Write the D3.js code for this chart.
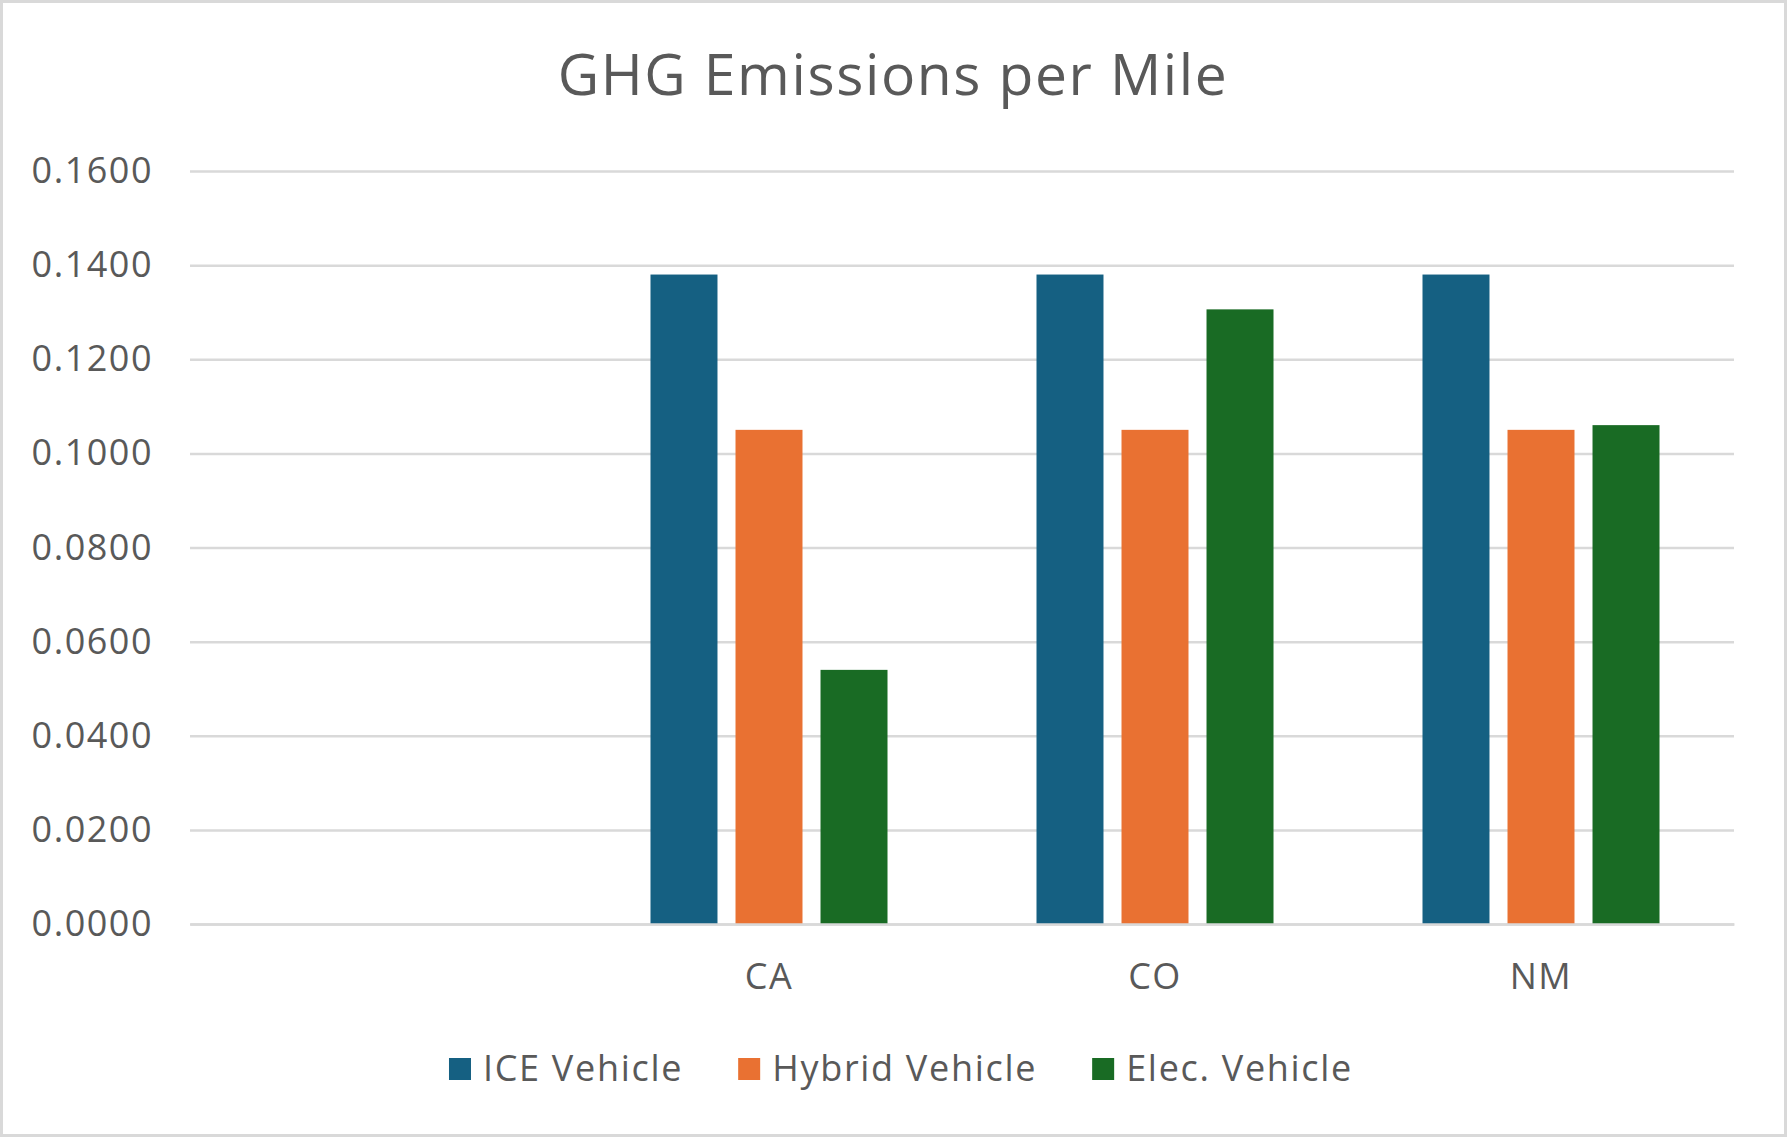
<!DOCTYPE html>
<html>
<head>
<meta charset="utf-8">
<script src="https://cdn.jsdelivr.net/npm/d3@7"></script>
<style>
  body { margin: 0; background: #fff; }
  svg { display: block; font-family: "Open Sans", "Noto Sans", sans-serif; }
</style>
</head>
<body>
<script>

// Data
const categories = ["", "CA", "CO", "NM"];
const seriesNames = ["ICE Vehicle", "Hybrid Vehicle", "Elec. Vehicle"];
const iceValues    = [null, 0.138, 0.138, 0.138];
const hybridValues = [null, 0.105, 0.105, 0.105];
const elecValues   = [null, 0.054, 0.1306, 0.106];
const yTicks = [0, 0.02, 0.04, 0.06, 0.08, 0.10, 0.12, 0.14, 0.16];
const colors = ["#156082", "#E97132", "#196B24"];

const seriesValues = [iceValues, hybridValues, elecValues];

const width = 1787;
const height = 1137;
const marginTop = 171;
const marginRight = 53;
const marginBottom = 213;
const marginLeft = 190;
const textColor = "#595959";
const gridColor = "#d9d9d9";

// Rows for the grouped bars
const rows = [];
categories.forEach((c, i) => {
    seriesNames.forEach((s, j) => {
        if (seriesValues[j][i] != null) rows.push({cat: c, series: s, value: seriesValues[j][i]});
    });
});

// Create the SVG container.
const svg = d3.create("svg")
    .attr("width", width)
    .attr("height", height)
    .attr("viewBox", [0, 0, width, height]);

// Outer chart border
svg.append("rect")
    .attr("x", 1.5).attr("y", 1.5)
    .attr("width", width - 3).attr("height", height - 3)
    .attr("fill", "#fff")
    .attr("stroke", gridColor)
    .attr("stroke-width", 3);

// Scales
const x0 = d3.scaleBand(categories, [marginLeft, width - marginRight])
    .paddingInner(0.386)
    .paddingOuter(0.193);

const x1 = d3.scaleBand(seriesNames, [0, x0.bandwidth()])
    .paddingInner(0.212);

const y = d3.scaleLinear([0, 0.16], [height - marginBottom, marginTop]);

const color = d3.scaleOrdinal(seriesNames, colors);

// Grid lines and y labels
svg.append("g")
    .attr("transform", `translate(${marginLeft},0)`)
    .call(d3.axisLeft(y).tickValues(yTicks).tickFormat(d3.format(".4f")).tickSize(0).tickPadding(37))
    .call(g => g.select(".domain").remove())
    .call(g => g.selectAll(".tick line").clone()
        .attr("x2", width - marginLeft - marginRight)
        .attr("stroke", gridColor)
        .attr("stroke-width", 2.5))
    .call(g => g.selectAll(".tick text")
        .attr("fill", textColor)
        .attr("font-family", "Open Sans")
        .attr("letter-spacing", "1.5px")
        .attr("font-size", "36px"));

// Bars
svg.append("g")
    .selectAll("rect")
    .data(rows)
    .join("rect")
    .attr("x", d => x0(d.cat) + x1(d.series))
    .attr("y", d => y(d.value))
    .attr("width", x1.bandwidth())
    .attr("height", d => y(0) - y(d.value))
    .attr("fill", d => color(d.series));

// x-axis line and labels
svg.append("g")
    .attr("transform", `translate(0,${height - marginBottom})`)
    .call(d3.axisBottom(x0).tickSize(0).tickPadding(39))
    .call(g => g.select(".domain")
        .attr("stroke", gridColor)
        .attr("stroke-width", 2.5))
    .call(g => g.selectAll(".tick text")
        .attr("fill", textColor)
        .attr("font-family", "Open Sans")
        .attr("letter-spacing", "1.5px")
        .attr("font-size", "36px"));

// Title
svg.append("text")
    .attr("x", 893)
    .attr("y", 95)
    .attr("text-anchor", "middle")
    .attr("fill", textColor)
    .attr("font-size", "57px")
    .attr("letter-spacing", "1.6px")
    .text("GHG Emissions per Mile");

document.body.appendChild(svg.node());

// Legend, laid out from the measured text widths
const legend = svg.append("g");
const items = legend.selectAll("g")
    .data(seriesNames)
    .join("g");

items.append("rect")
    .attr("width", 22)
    .attr("height", 22)
    .attr("y", 1058)
    .attr("fill", d => color(d));

items.append("text")
    .attr("x", 34)
    .attr("y", 1081)
    .attr("fill", textColor)
    .attr("font-size", "36px")
    .attr("letter-spacing", "1.7px")
    .text(d => d);

var offset = 0;
const offsets = [];
items.each(function(d){
    offsets.push(offset);
    offset += 34 + d3.select(this).select("text").node().getComputedTextLength() + 55;
});
const total = offset - 55;
const start = 901 - total / 2;
items.attr("transform", (d, i) => `translate(${start + offsets[i]},0)`);

</script>
</body>
</html>
